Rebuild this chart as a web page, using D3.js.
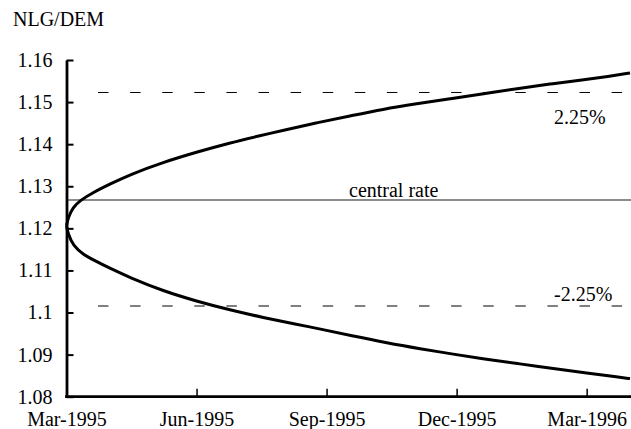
<!DOCTYPE html>
<html>
<head>
<meta charset="utf-8">
<script src="https://cdn.jsdelivr.net/npm/d3@7"></script>
<style>
  html, body { margin: 0; padding: 0; background: #fff; }
  svg { display: block; }
</style>
</head>
<body>
<svg id="chart" width="631" height="429"></svg>
<script>
// ---- data (months since Mar-1995, NLG per DEM) ----
const upperMonths = [0, 0.04, 0.15, 0.31, 0.61, 1.0, 1.47, 2.23, 3.0, 3.77, 4.46, 5.0, 5.77, 6.54, 7.3, 8.08, 8.85, 9.62, 10.4, 11.15, 11.92, 12.5, 13.0];
const upperValues = [1.1206, 1.1226, 1.1250, 1.1266, 1.1285, 1.1305, 1.1328, 1.1357, 1.1381, 1.1403, 1.1420, 1.1433, 1.1451, 1.1467, 1.1483, 1.1496, 1.1508, 1.1520, 1.1532, 1.1543, 1.1553, 1.1561, 1.1569];
const lowerMonths = [0, 0.04, 0.157, 0.388, 0.618, 1.0, 1.465, 2.233, 3.0, 3.77, 4.54, 5.31, 5.85, 6.62, 7.39, 8.16, 8.92, 9.69, 10.46, 11.23, 12.0, 12.77, 13.0];
const lowerValues = [1.1206, 1.1186, 1.1158, 1.1138, 1.1125, 1.1105, 1.1083, 1.1051, 1.1027, 1.1006, 1.0988, 1.0972, 1.0961, 1.0944, 1.0928, 1.0914, 1.0901, 1.0889, 1.0878, 1.0867, 1.0856, 1.0846, 1.0843];
const centralRate = 1.12673;
const upperBand = 1.15228;
const lowerBand = 1.10155;
const yTicks = [1.08, 1.09, 1.10, 1.11, 1.12, 1.13, 1.14, 1.15, 1.16];
const yTickLabels = ["1.08", "1.09", "1.1", "1.11", "1.12", "1.13", "1.14", "1.15", "1.16"];
const xTicks = [0, 3, 6, 9, 12];
const xTickLabels = ["Mar-1995", "Jun-1995", "Sep-1995", "Dec-1995", "Mar-1996"];
const yTitle = "NLG/DEM";
const bandLabels = ["2.25%", "-2.25%"];
const centralLabel = "central rate";

// ---- layout ----
const FONT = '"Liberation Serif"';
const svg = d3.select("#chart");
const x = d3.scaleLinear().domain([0, 13]).range([66.5, 630]);
const y = d3.scaleLinear().domain([1.08, 1.16]).range([396.7, 60]);
const fontSize = "20px";

// reference lines
const refG = svg.append("g");
[upperBand, lowerBand].forEach(v => {
  refG.append("line")
    .attr("x1", 98).attr("x2", 631)
    .attr("y1", y(v)).attr("y2", y(v))
    .attr("stroke", "#000").attr("stroke-width", 1)
    .attr("stroke-dasharray", "10.5,21.6");
});
refG.append("line")
  .attr("x1", x(0)).attr("x2", 631)
  .attr("y1", y(centralRate)).attr("y2", y(centralRate))
  .attr("stroke", "#666").attr("stroke-width", 1.5);

// curves
const line = d3.line().x(d => x(d[0])).y(d => y(d[1])).curve(d3.curveBasis);
const upper = upperMonths.map((m, i) => [m, upperValues[i]]);
const lower = lowerMonths.map((m, i) => [m, lowerValues[i]]);
[upper, lower].forEach(data => {
  svg.append("path").datum(data)
    .attr("d", line)
    .attr("fill", "none")
    .attr("stroke", "#000")
    .attr("stroke-width", 3)
    .attr("stroke-linejoin", "round");
});

// y axis
const yAxis = d3.axisLeft(y)
  .tickValues(yTicks)
  .tickFormat((d, i) => yTickLabels[i])
  .tickSizeInner(-7)
  .tickSizeOuter(0)
  .tickPadding(14);
const yg = svg.append("g").attr("transform", `translate(${x(0)},0)`).call(yAxis);
yg.attr("font-family", null).attr("font-size", null);
yg.select(".domain").attr("stroke", "#000").attr("stroke-width", 2.8);
yg.selectAll(".tick line").attr("stroke", "#000").attr("stroke-width", 2);
yg.selectAll(".tick text").attr("fill", "#000")
  .style("font-family", FONT).style("font-size", fontSize);

// x axis
const xAxis = d3.axisBottom(x)
  .tickValues(xTicks)
  .tickFormat((d, i) => xTickLabels[i])
  .tickSizeInner(-8)
  .tickSizeOuter(0)
  .tickPadding(15);
const xg = svg.append("g").attr("transform", `translate(0,${y(1.08)})`).call(xAxis);
xg.attr("font-family", null).attr("font-size", null);
xg.select(".domain").attr("d", `M${x(0) - 1.4},0H631`).attr("stroke", "#000").attr("stroke-width", 2.8);
xg.selectAll(".tick line").attr("stroke", "#000").attr("stroke-width", 1.5);
xg.selectAll(".tick text").attr("fill", "#000")
  .style("font-family", FONT).style("font-size", fontSize);

// texts
function addText(tx, ty, s) {
  svg.append("text").attr("x", tx).attr("y", ty).attr("fill", "#000")
    .style("font-family", FONT).style("font-size", fontSize).text(s);
}
addText(13, 26, yTitle);
addText(349, 197, centralLabel);
addText(554, 124, bandLabels[0]);
addText(554, 300.5, bandLabels[1]);
</script>
</body>
</html>
